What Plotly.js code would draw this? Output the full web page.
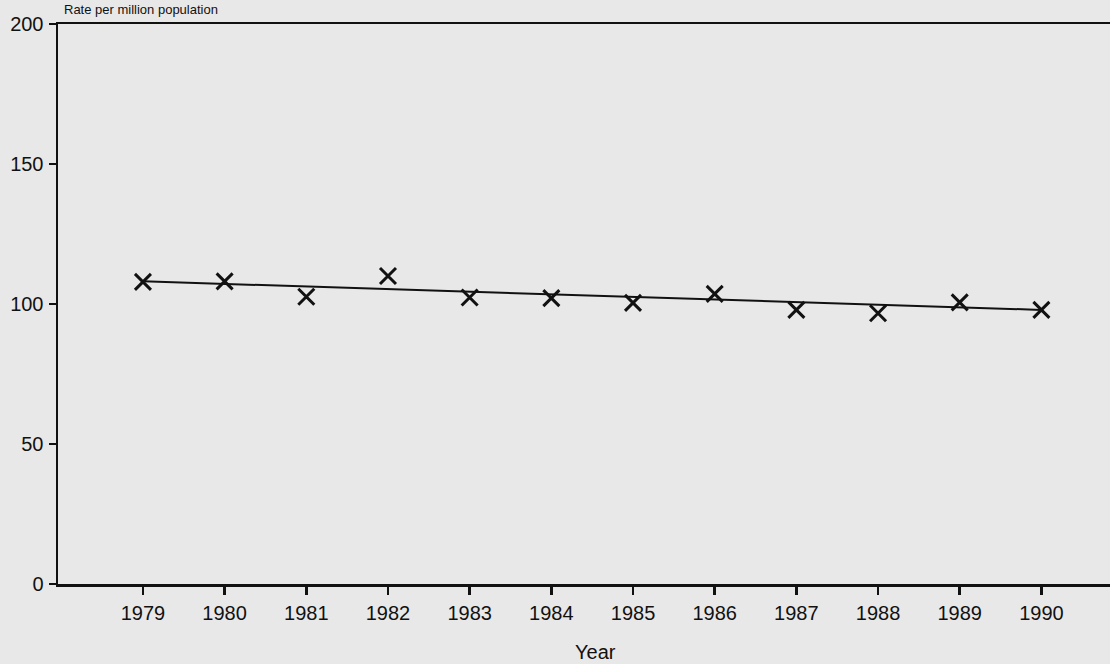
<!DOCTYPE html>
<html>
<head>
<meta charset="utf-8">
<script src="https://cdn.plot.ly/plotly-3.0.1.min.js"></script>
<style>html,body{margin:0;padding:0;background:#e8e8e8;}#chart{width:1110px;height:664px;}</style>
</head>
<body>
<div id="chart"></div>
<script>
const years = [1979, 1980, 1981, 1982, 1983, 1984, 1985, 1986, 1987, 1988, 1989, 1990];
const rates = [107.9, 108.1, 102.6, 110.0, 102.3, 102.1, 100.4, 103.6, 97.9, 96.7, 100.6, 97.9];
const trendYears = [1979, 1990];
const trendRates = [108.1, 97.9];
const yTicks = [0, 50, 100, 150, 200];
const yTitle = "Rate per million population";
const xTitle = "Year";

const ink = "#111111";
const traces = [
  {x: trendYears, y: trendRates, mode: "lines", type: "scatter",
   line: {color: ink, width: 2}, hoverinfo: "skip", showlegend: false},
  {x: years, y: rates, mode: "markers", type: "scatter",
   marker: {symbol: "x-thin", size: 16, line: {color: ink, width: 3}, color: ink},
   showlegend: false}
];

const layout = {
  width: 1110, height: 664,
  margin: {l: 58, r: 0, t: 24, b: 80},
  paper_bgcolor: "#e8e8e8", plot_bgcolor: "#e8e8e8",
  font: {family: "Liberation Sans, Arial, sans-serif", size: 20, color: ink},
  showlegend: false,
  xaxis: {
    range: [1977.96, 1990.84], tickvals: years, ticktext: years.map(String),
    showgrid: false, zeroline: false, showline: true, linecolor: ink, linewidth: 2.5,
    mirror: true, ticks: "outside", ticklen: 8, tickwidth: 2.5, tickcolor: ink,
    ticklabelstandoff: 1, tickfont: {size: 20, color: ink}
  },
  yaxis: {
    range: [0, 200], tickvals: yTicks, ticktext: yTicks.map(String),
    showgrid: false, zeroline: false, showline: true, linecolor: ink, linewidth: 2.5,
    ticks: "outside", ticklen: 7, tickwidth: 2.5, tickcolor: ink,
    ticklabelstandoff: 1, tickfont: {size: 20, color: ink}
  },
  annotations: [
    {text: xTitle, xref: "paper", yref: "paper", x: 0.5105, y: -0.121,
     xanchor: "center", yanchor: "middle", showarrow: false,
     font: {size: 20, color: ink}},
    {text: yTitle, xref: "paper", yref: "paper", x: 0.004, y: 1.0429,
     xanchor: "left", yanchor: "top", showarrow: false,
     font: {size: 13, color: ink}}
  ]
};

Plotly.newPlot("chart", traces, layout, {displayModeBar: false, staticPlot: true});
</script>
</body>
</html>
